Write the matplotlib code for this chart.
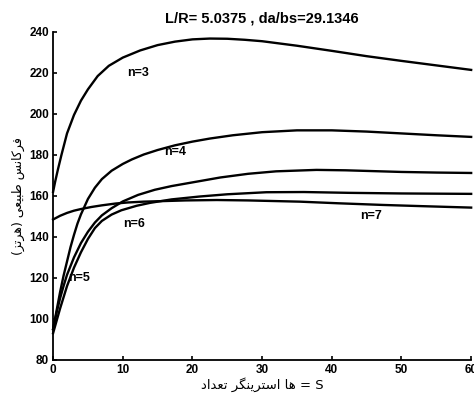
import matplotlib
matplotlib.use('Agg')
import matplotlib.pyplot as plt

# Data (S = number of stringers, natural frequency in Hz)
s_n3 = [0, 0.3, 0.7, 1.2, 2, 3, 4, 5, 6.4, 8, 10, 12.5, 15, 17.5, 20, 22.5, 25, 27.5, 30, 35, 40, 45, 50, 55, 60]
f_n3 = [162, 167, 173, 180, 190.5, 199.5, 206.5, 212, 218.5, 223.5, 227.5, 231, 233.6, 235.3, 236.4, 236.8,
        236.7, 236.2, 235.5, 233.3, 230.8, 228.2, 225.9, 223.7, 221.5]

s_n4 = [0, 0.5, 1, 1.5, 2, 2.5, 3, 3.5, 4, 5, 6, 7, 8.4, 10, 11.3, 13, 15, 17.5, 20, 22.5, 25.8, 30, 35, 40,
        45, 50, 55, 60]
f_n4 = [95, 104, 113, 121, 128, 135, 141, 146.5, 151, 158.5, 164, 168.2, 172.3, 175.6, 177.8, 180.2, 182.4,
        184.7, 186.5, 188, 189.6, 191.1, 192, 192, 191.4, 190.5, 189.6, 188.8]

s_n5 = [0, 0.5, 1, 1.5, 2, 3, 4, 5, 6, 7, 8.4, 10, 12.2, 14.6, 17, 20, 24, 28, 32, 37.8, 42, 45, 50, 55, 60]
f_n5 = [95, 103, 110, 116, 121.5, 130, 137, 142.5, 147, 150.5, 154, 157.3, 160.5, 163, 164.8, 166.6, 169,
        170.8, 172, 172.7, 172.5, 172.2, 171.7, 171.4, 171.2]

s_n6 = [0, 0.5, 1, 1.5, 2, 3, 4, 5, 6, 7, 8.4, 9.8, 12, 13.9, 17, 21, 25, 30.6, 36, 42.5, 50, 60]
f_n6 = [93, 99, 105, 110.5, 116, 125, 132.5, 139, 144.3, 147.8, 150.9, 153, 155.2, 156.6, 158.3, 159.7,
        160.8, 161.8, 161.9, 161.5, 161.2, 161]

s_n7 = [0, 1, 2, 3, 4, 5.5, 7, 9, 10.7, 13, 15, 19, 23.5, 28, 35.4, 41, 47.3, 53, 60]
f_n7 = [148.5, 150.3, 151.7, 152.8, 153.6, 154.6, 155.4, 156.3, 156.8, 157.2, 157.4, 157.8, 158, 157.8,
        157.2, 156.4, 155.6, 155, 154.3]

x_ticks = [0, 10, 20, 30, 40, 50, 60]
y_ticks = [80, 100, 120, 140, 160, 180, 200, 220, 240]

# minimal Persian shaping (isolated, final, initial, medial)
FORMS = {
    'ا': ('\uFE8D', '\uFE8E', None, None),
    'ب': ('\uFE8F', '\uFE90', '\uFE91', '\uFE92'),
    'ت': ('\uFE95', '\uFE96', '\uFE97', '\uFE98'),
    'د': ('\uFEA9', '\uFEAA', None, None),
    'ر': ('\uFEAD', '\uFEAE', None, None),
    'ز': ('\uFEAF', '\uFEB0', None, None),
    'س': ('\uFEB1', '\uFEB2', '\uFEB3', '\uFEB4'),
    'ط': ('\uFEC1', '\uFEC2', '\uFEC3', '\uFEC4'),
    'ع': ('\uFEC9', '\uFECA', '\uFECB', '\uFECC'),
    'ف': ('\uFED1', '\uFED2', '\uFED3', '\uFED4'),
    'م': ('\uFEE1', '\uFEE2', '\uFEE3', '\uFEE4'),
    'ن': ('\uFEE5', '\uFEE6', '\uFEE7', '\uFEE8'),
    'ه': ('\uFEE9', '\uFEEA', '\uFEEB', '\uFEEC'),
    'ک': ('\uFB8E', '\uFB8F', '\uFB90', '\uFB91'),
    'گ': ('\uFB92', '\uFB93', '\uFB94', '\uFB95'),
    'ی': ('\uFBFC', '\uFBFD', '\uFBFE', '\uFBFF'),
}


def shape(word):
    out = []
    for i, ch in enumerate(word):
        if ch not in FORMS:
            out.append(ch)
            continue
        prev = word[i - 1] if i > 0 else None
        nxt = word[i + 1] if i + 1 < len(word) else None
        join_prev = prev in FORMS and FORMS[prev][2] is not None
        join_next = nxt in FORMS and FORMS[ch][2] is not None
        iso, fin, ini, med = FORMS[ch]
        if join_prev and join_next:
            out.append(med)
        elif join_prev:
            out.append(fin)
        elif join_next:
            out.append(ini)
        else:
            out.append(iso)
    return ''.join(reversed(out))


xlabel = ' '.join(shape(w) for w in ['تعداد', 'استرینگر', 'ها']) + ' = S'
ylabel = '(' + shape('هرتز') + ') ' + shape('طبیعی') + ' ' + shape('فرکانس')

fig = plt.figure(figsize=(4.74, 3.95), dpi=100)
ax = fig.add_axes([0.112, 0.089, 0.882, 0.83])

for s, f in [(s_n3, f_n3), (s_n4, f_n4), (s_n5, f_n5), (s_n6, f_n6), (s_n7, f_n7)]:
    ax.plot(s, f, color='black', lw=1.7, clip_on=False, solid_joinstyle='round')

lab = dict(fontsize=9, fontweight='bold', family='Liberation Sans', ha='center', va='center')
ax.text(12.2, 220, 'n=3', **lab)
ax.text(17.5, 181.5, 'n=4', **lab)
ax.text(3.7, 120, 'n=5', **lab)
ax.text(11.6, 146.5, 'n=6', **lab)
ax.text(45.6, 150, 'n=7', **lab)

ax.set_xlim(0, 60)
ax.set_ylim(80, 240)
ax.set_xticks(x_ticks)
ax.set_yticks(y_ticks)
ax.spines['top'].set_visible(False)
ax.spines['right'].set_visible(False)
ax.spines['left'].set_linewidth(1.3)
ax.spines['bottom'].set_linewidth(1.3)
ax.tick_params(direction='in', length=3, width=1.2, labelsize=8.5, pad=3)
for t in ax.get_xticklabels() + ax.get_yticklabels():
    t.set_fontweight('bold')
    t.set_family('Liberation Sans')

ax.set_title('L/R= 5.0375 , da/bs=29.1346', fontsize=10.5, fontweight='bold',
             family='Liberation Sans', pad=7)
ax.set_xlabel(xlabel, fontsize=9.5, family=['DejaVu Sans'], labelpad=1)
ax.set_ylabel(ylabel, fontsize=9, family=['DejaVu Sans'], labelpad=3)

fig.savefig('out.png', dpi=100)
